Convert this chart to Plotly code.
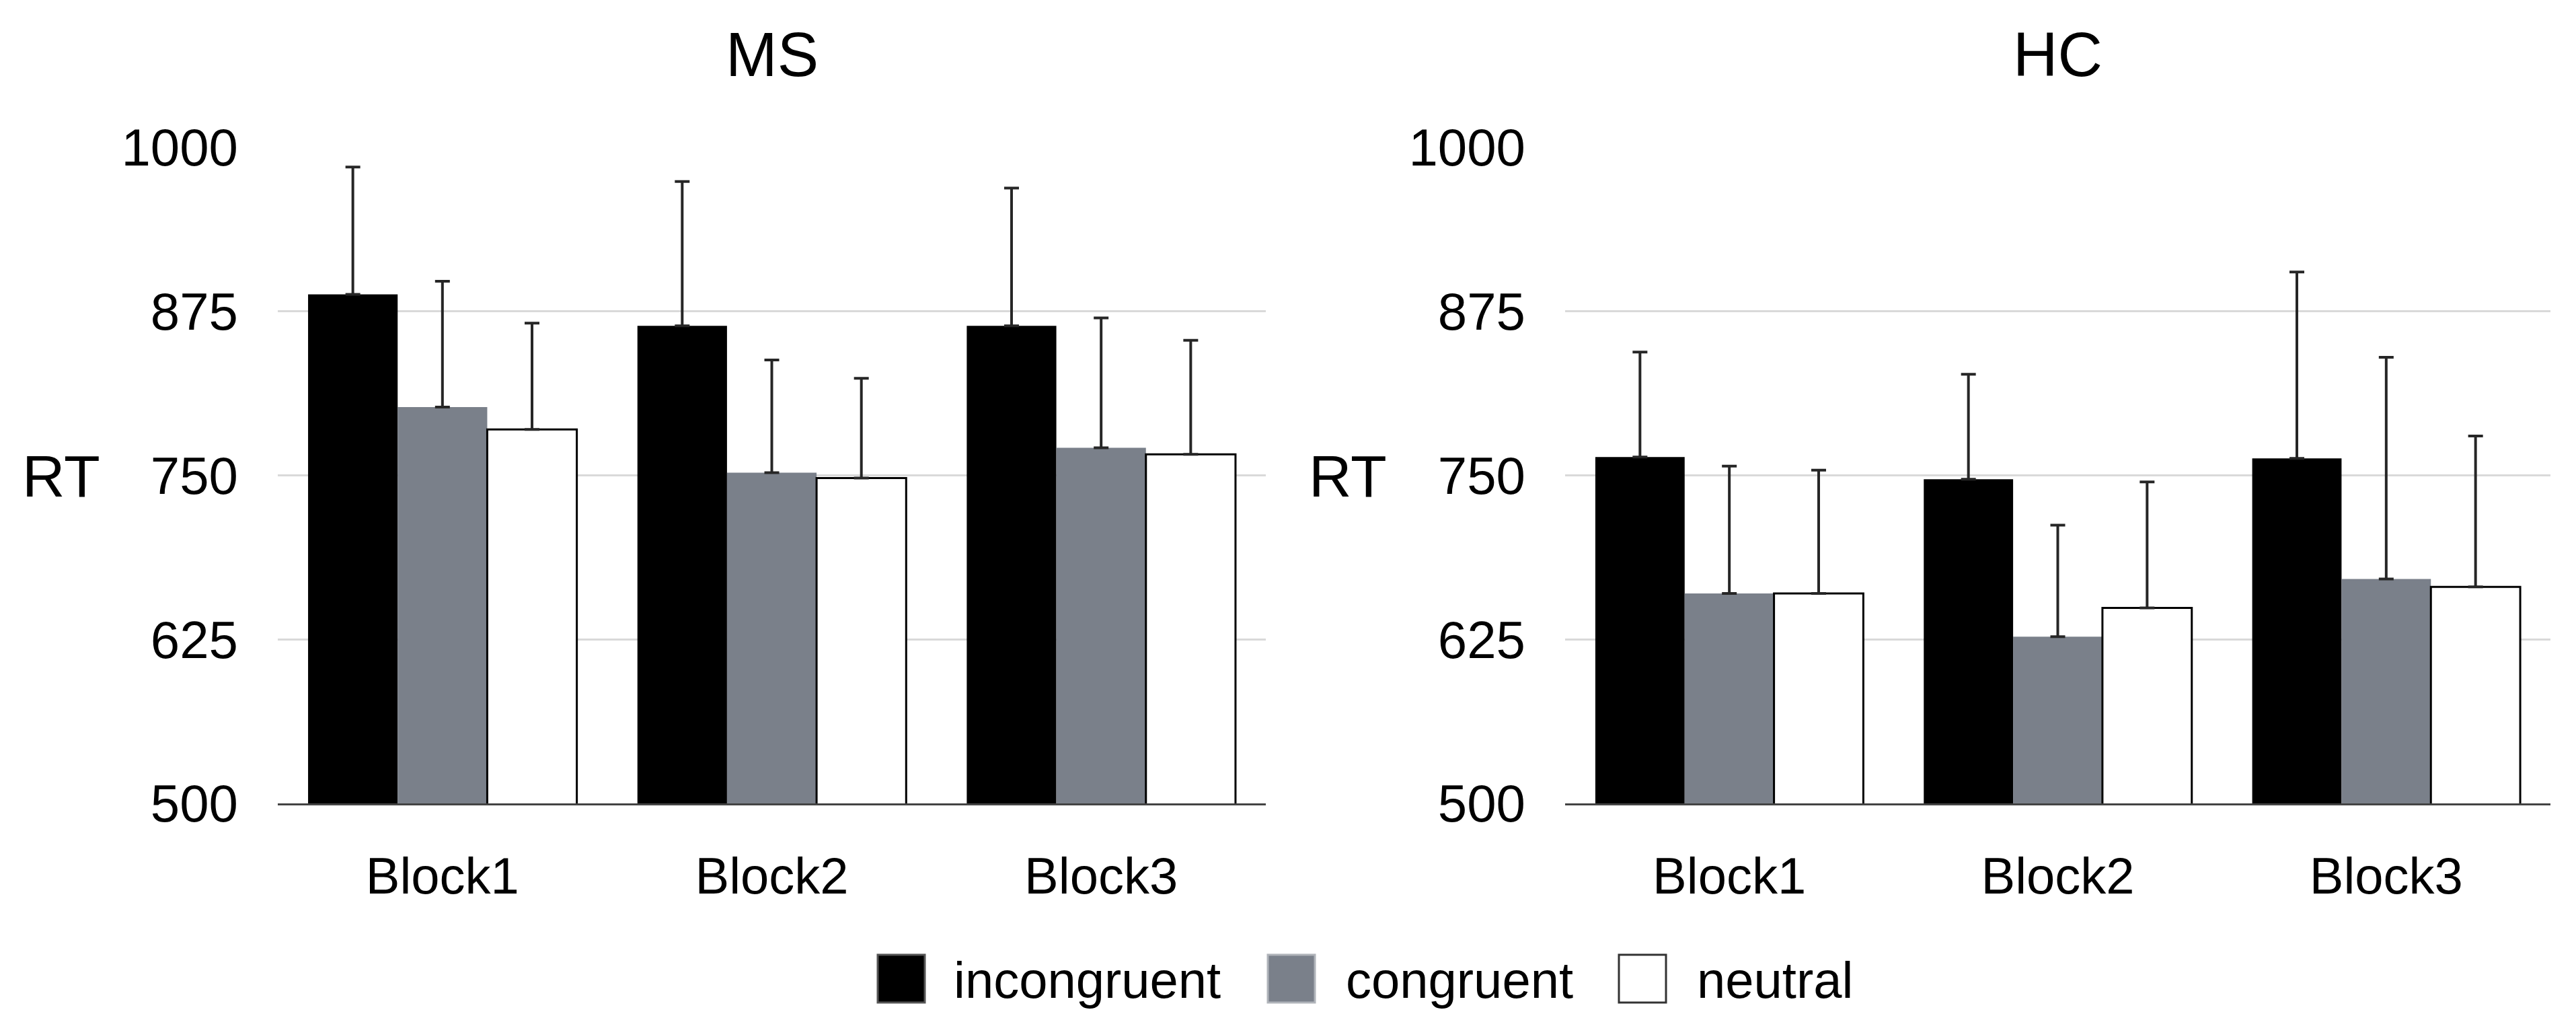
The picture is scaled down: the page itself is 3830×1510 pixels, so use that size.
import plotly.graph_objects as go

# ---------------- data ----------------
blocks = ["Block1", "Block2", "Block3"]
conditions = ["incongruent", "congruent", "neutral"]

ms_incongruent = [888, 864, 864]
ms_congruent = [802, 752, 771]
ms_neutral = [785, 748, 766]
ms_incongruent_err = [97, 110, 105]
ms_congruent_err = [96, 86, 99]
ms_neutral_err = [81, 76, 87]

hc_incongruent = [764, 747, 763]
hc_congruent = [660, 627, 671]
hc_neutral = [660, 649, 665]
hc_incongruent_err = [80, 80, 142]
hc_congruent_err = [97, 85, 169]
hc_neutral_err = [94, 96, 115]

y_ticks = [500, 625, 750, 875, 1000]
panel_titles = ["MS", "HC"]

# ---------------- styles ----------------
W, H = 3830, 1510
FONT = "Liberation Sans, Arial, Helvetica, sans-serif"
fills = {"incongruent": "#000000", "congruent": "#7a808a", "neutral": "#ffffff"}
line_w = {"incongruent": 0, "congruent": 0, "neutral": 3}

left_dom = [405 / W, 1874 / W]
right_dom = [2319 / W, 3784 / W]
y_dom = [1 - 1186 / H, 1 - 211 / H]

fig = go.Figure()

panels = [
    ("x", "y", [ms_incongruent, ms_congruent, ms_neutral],
     [ms_incongruent_err, ms_congruent_err, ms_neutral_err]),
    ("x2", "y2", [hc_incongruent, hc_congruent, hc_neutral],
     [hc_incongruent_err, hc_congruent_err, hc_neutral_err]),
]

for xa, ya, vals, errs in panels:
    for cond, v, e in zip(conditions, vals, errs):
        fig.add_trace(go.Bar(
            x=blocks, y=v, name=cond, xaxis=xa, yaxis=ya,
            marker=dict(color=fills[cond], line=dict(color="#000000", width=line_w[cond])),
            error_y=dict(type="data", symmetric=False, array=e, arrayminus=[0] * len(e),
                         color="#262626", thickness=4, width=11),
            showlegend=False,
        ))

axis_common_y = dict(
    range=[500, 1000], tickvals=y_ticks, ticktext=[str(t) for t in y_ticks],
    showgrid=True, gridcolor="#d9d9d9", gridwidth=3, zeroline=False,
    showline=False, ticks="", ticklabelstandoff=58,
    tickfont=dict(family=FONT, size=78, color="#000000"),
    domain=y_dom, fixedrange=True,
)
axis_common_x = dict(
    showline=True, linecolor="#444444", linewidth=3, ticks="",
    showgrid=False, zeroline=False, ticklabelstandoff=40,
    tickfont=dict(family=FONT, size=76, color="#000000"),
)

fig.update_layout(
    width=W, height=H,
    margin=dict(l=0, r=0, t=0, b=0, autoexpand=False),
    paper_bgcolor="#ffffff", plot_bgcolor="#ffffff",
    barmode="group", bargap=0.184, bargroupgap=0,
    showlegend=False,
    font=dict(family=FONT, color="#000000"),
    xaxis=dict(domain=left_dom, anchor="y", **axis_common_x),
    xaxis2=dict(domain=right_dom, anchor="y2", **axis_common_x),
    yaxis=dict(anchor="x", **axis_common_y),
    yaxis2=dict(anchor="x2", **axis_common_y),
)

annotations = []
shapes = []
# panel titles
for title, dom in zip(panel_titles, [left_dom, right_dom]):
    annotations.append(dict(
        text=title, x=(dom[0] + dom[1]) / 2, y=1 - 73 / H, xref="paper", yref="paper",
        xanchor="center", yanchor="middle", showarrow=False,
        font=dict(family=FONT, size=92, color="#000000"),
    ))
# RT labels
for cx in [83, 1996]:
    annotations.append(dict(
        text="RT", x=cx / W, y=1 - 700 / H, xref="paper", yref="paper",
        xanchor="center", yanchor="middle", showarrow=False,
        font=dict(family=FONT, size=88, color="#000000"),
    ))

# legend (drawn manually to match large swatches)
legend_items = [
    ("incongruent", 1297, 1408),
    ("congruent", 1877, 1991),
    ("neutral", 2399, 2513),
]
swatch_line = {"incongruent": "#555555", "congruent": "#b0b4ba", "neutral": "#333333"}
for cond, sx, tx in legend_items:
    shapes.append(dict(
        type="rect", xref="paper", yref="paper",
        x0=sx / W, x1=(sx + 70) / W, y0=1 - 1482 / H, y1=1 - 1411 / H,
        fillcolor=fills[cond], line=dict(color=swatch_line[cond], width=3),
    ))
    annotations.append(dict(
        text=cond, x=tx / W, y=1 - 1448 / H, xref="paper", yref="paper",
        xanchor="left", yanchor="middle", showarrow=False,
        font=dict(family=FONT, size=76, color="#000000"),
    ))

fig.update_layout(annotations=annotations, shapes=shapes)

fig.write_html("out.html")
